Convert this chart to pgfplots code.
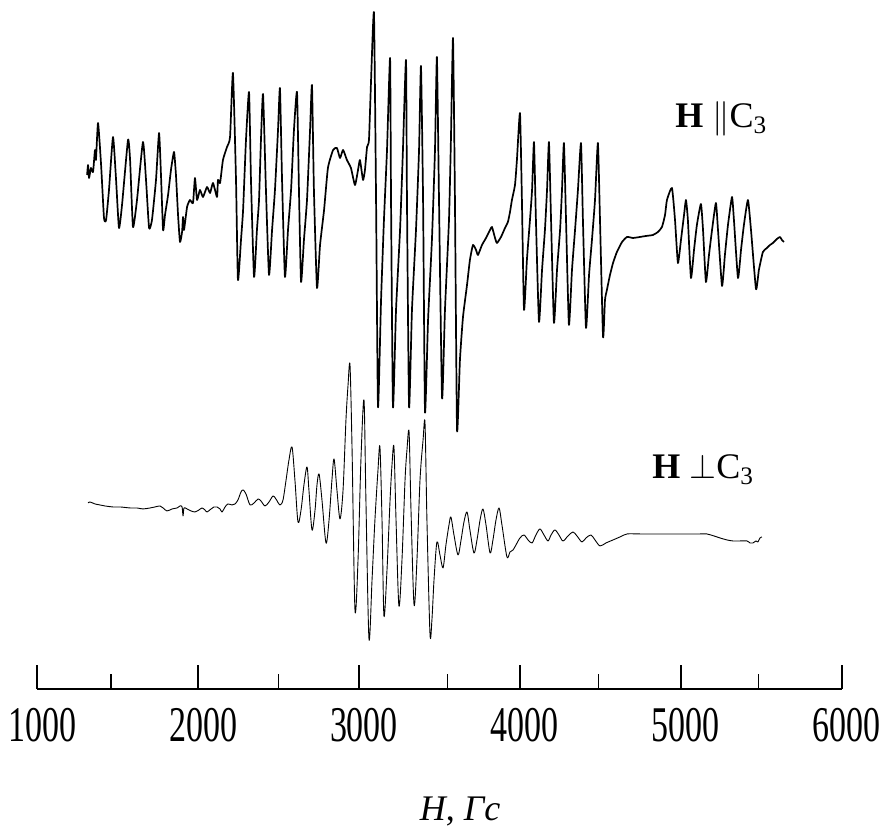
\documentclass[border=0pt]{standalone}
\usepackage{fontspec}
\setmainfont{Liberation Serif}
\usepackage{graphicx}
\usepackage{pgfplots}
\pgfplotsset{compat=1.18}

% H || C3 spectrum: field (Gs) vs. signal (arb. units)
\pgfplotstableread{
x y
1311 -175
1317 -165
1323 -178
1335 -168
1348 -172
1360 -150
1366 -160
1379 -123
1398 -165
1416 -218
1429 -220
1447 -190
1472 -137
1491 -180
1509 -228
1528 -205
1565 -140
1578 -160
1596 -227
1621 -200
1658 -142
1677 -180
1696 -228
1714 -220
1739 -180
1758 -133
1770 -175
1783 -230
1795 -215
1814 -195
1832 -170
1851 -152
1863 -175
1876 -215
1888 -242
1901 -232
1907 -217
1913 -230
1932 -207
1950 -200
1969 -203
1981 -178
1994 -200
2012 -190
2031 -197
2056 -187
2075 -193
2093 -183
2118 -197
2124 -180
2137 -183
2155 -160
2180 -147
2199 -137
2217 -73
2236 -180
2248 -280
2267 -240
2280 -210
2298 -140
2317 -92
2329 -180
2348 -277
2366 -230
2379 -200
2391 -140
2404 -94
2422 -190
2441 -275
2460 -230
2478 -190
2497 -130
2509 -88
2522 -180
2540 -277
2559 -230
2578 -190
2596 -130
2615 -92
2627 -190
2640 -282
2658 -240
2677 -200
2696 -130
2708 -85
2720 -190
2739 -288
2758 -245
2783 -210
2807 -168
2839 -150
2863 -148
2882 -158
2901 -150
2925 -160
2950 -168
2975 -185
2994 -170
3006 -160
3025 -180
3037 -170
3050 -147
3062 -140
3075 -80
3093 -13
3106 -200
3118 -407
3137 -300
3155 -220
3174 -150
3193 -58
3199 -200
3211 -407
3230 -310
3255 -230
3273 -150
3292 -60
3298 -200
3311 -407
3329 -310
3354 -230
3373 -150
3385 -66
3398 -200
3410 -412
3429 -320
3453 -240
3472 -150
3484 -57
3497 -200
3516 -398
3534 -310
3559 -220
3571 -140
3584 -38
3596 -200
3609 -430
3627 -360
3646 -317
3671 -285
3689 -260
3708 -245
3727 -250
3739 -255
3764 -245
3789 -238
3814 -230
3826 -227
3845 -238
3857 -243
3882 -237
3907 -228
3925 -222
3938 -212
3950 -200
3969 -185
3981 -160
4000 -113
4012 -200
4025 -310
4043 -260
4062 -220
4075 -190
4087 -142
4099 -220
4118 -322
4137 -270
4155 -230
4168 -190
4180 -142
4193 -220
4211 -323
4230 -270
4249 -230
4261 -190
4273 -143
4286 -220
4304 -325
4323 -270
4342 -230
4360 -190
4379 -143
4391 -220
4410 -328
4429 -275
4447 -240
4466 -200
4484 -143
4497 -220
4516 -337
4528 -300
4540 -290
4559 -275
4578 -263
4602 -252
4634 -242
4665 -237
4702 -238
4745 -237
4783 -236
4826 -235
4857 -232
4882 -227
4901 -215
4913 -200
4944 -188
4963 -220
4981 -263
5000 -240
5019 -215
5031 -200
5043 -220
5062 -278
5081 -250
5099 -225
5124 -204
5137 -230
5155 -282
5174 -255
5193 -230
5217 -203
5230 -230
5255 -286
5273 -255
5292 -225
5317 -197
5329 -220
5354 -278
5373 -250
5391 -225
5416 -200
5435 -230
5466 -289
5484 -270
5509 -252
5534 -248
5553 -245
5571 -243
5596 -239
5615 -237
5627 -240
5640 -242
}\parallel

% H perp C3 spectrum
\pgfplotstableread{
x y
1317 -503
1329 -502
1360 -504
1391 -505
1422 -506
1472 -507
1516 -507
1578 -508
1621 -508
1658 -509
1702 -508
1733 -507
1764 -506
1783 -508
1807 -511
1839 -509
1870 -508
1888 -506
1901 -507
1907 -516
1913 -508
1932 -509
1957 -511
1981 -512
2006 -510
2025 -508
2043 -510
2056 -512
2081 -509
2099 -507
2118 -507
2137 -509
2149 -512
2168 -507
2186 -504
2211 -505
2230 -504
2248 -500
2267 -492
2280 -490
2298 -494
2323 -505
2348 -503
2373 -499
2391 -501
2416 -506
2441 -502
2466 -496
2484 -499
2509 -505
2528 -500
2547 -480
2565 -460
2584 -447
2602 -480
2621 -522
2640 -510
2658 -485
2677 -467
2689 -490
2708 -530
2727 -510
2739 -485
2752 -474
2770 -500
2795 -543
2814 -520
2832 -480
2845 -459
2863 -490
2882 -519
2901 -490
2919 -420
2932 -385
2944 -365
2957 -450
2975 -610
2994 -560
3012 -460
3031 -400
3043 -500
3062 -639
3081 -580
3099 -520
3118 -470
3130 -447
3143 -520
3155 -616
3174 -570
3193 -500
3205 -465
3217 -447
3230 -520
3248 -606
3267 -560
3286 -480
3298 -450
3311 -432
3323 -510
3342 -605
3360 -560
3379 -480
3398 -440
3410 -423
3422 -520
3441 -634
3453 -620
3466 -580
3484 -542
3503 -555
3522 -568
3540 -545
3559 -525
3571 -517
3590 -535
3615 -555
3634 -540
3652 -522
3671 -512
3689 -530
3714 -553
3733 -540
3752 -520
3770 -509
3789 -525
3814 -553
3832 -540
3851 -520
3870 -508
3888 -525
3919 -557
3938 -552
3957 -550
3975 -545
4000 -538
4025 -535
4050 -540
4075 -543
4099 -535
4124 -529
4149 -535
4174 -541
4193 -535
4217 -530
4242 -535
4267 -541
4298 -536
4329 -532
4354 -536
4385 -542
4410 -538
4441 -535
4466 -540
4497 -546
4534 -543
4578 -540
4621 -537
4665 -534
4745 -534
4870 -534
4994 -534
5118 -534
5161 -534
5205 -536
5242 -538
5286 -540
5323 -541
5367 -541
5410 -541
5429 -543
5447 -543
5466 -541
5478 -542
5491 -538
5503 -537
}\perpen

\begin{document}
\begin{tikzpicture}
\begin{axis}[
    scale only axis,
    width=402.5pt, height=344.5pt,
    xmin=1000, xmax=6000,
    ymin=-689, ymax=0,
    clip=false,
    axis x line=bottom,
    axis y line=none,
    x axis line style={-, line width=0.6pt},
    xtick={1000,2000,3000,4000,5000,6000},
    minor xtick={1460,2500,3550,4490,5480},
    tick align=inside,
    major tick length=12pt,
    minor tick length=7.5pt,
    every tick/.style={black, line width=0.6pt},
    /pgf/number format/assume math mode=true,
    /pgf/number format/1000 sep={},
    xticklabel={\scalebox{1}[1.47]{\pgfmathprintnumber{\tick}}},
    xticklabel style={font=\fontsize{17}{20}\selectfont, inner sep=0pt,
        yshift=-9.5pt, xshift=2.5pt},
    xlabel={\textit{H}, \textit{Гс}},
    xlabel style={font=\fontsize{18}{21.6}\selectfont, at={(rel axis cs:0.5255,0)},
        anchor=north, inner sep=0pt, yshift=-54pt},
]
\addplot[black, line width=0.85pt, line join=round, smooth, tension=0.3] table[x=x, y=y] {\parallel};
\addplot[black, line width=0.45pt, line join=round, smooth, tension=0.5] table[x=x, y=y] {\perpen};

\node[anchor=base west, inner sep=0pt, font=\fontsize{18}{21.6}\selectfont]
    at (axis cs:4963,-128) {\textbf{H} $\|$C\textsubscript{3}};
\node[anchor=base west, inner sep=0pt, font=\fontsize{18}{21.6}\selectfont]
    at (axis cs:4820,-479) {\textbf{H} $\perp$C\textsubscript{3}};

% page frame matching the reference proportions
\path (axis cs:770,0) rectangle (axis cs:6286,-825);
\end{axis}
\end{tikzpicture}
\end{document}
